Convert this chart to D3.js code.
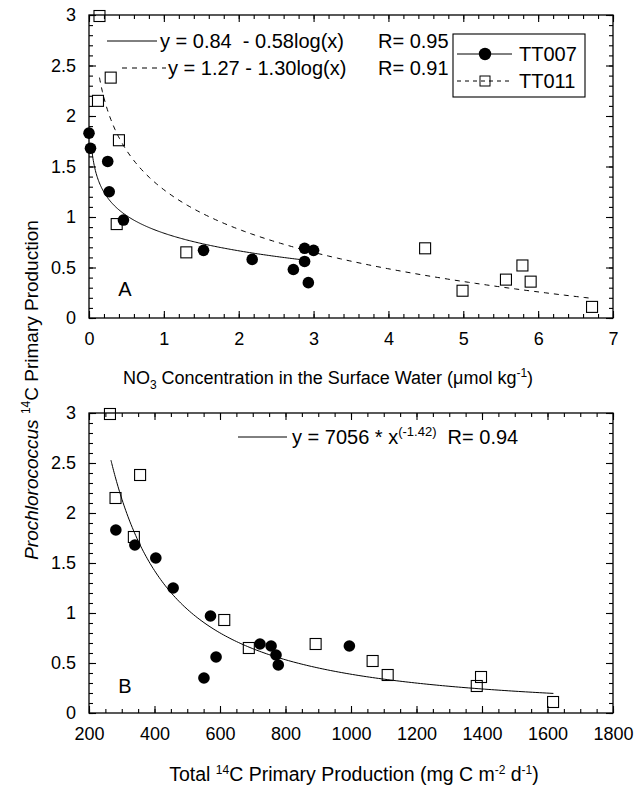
<!DOCTYPE html>
<html>
<head>
<meta charset="utf-8">
<script src="https://cdn.jsdelivr.net/npm/d3@7"></script>
<style>
  body { margin: 0; background: #fff; }
  svg { font-family: "Liberation Sans", Arial, Helvetica, sans-serif; }
  .tick text { font-size: 18px; fill: #000; }
  .domain { display: none; }
  .tick line { stroke: #000; stroke-width: 1.1; }
</style>
</head>
<body>
<svg id="chart" width="636" height="787"></svg>
<script>
// Prochlorococcus 14C primary production, shared by both panels
const prodTT007 = [1.83, 1.68, 1.55, 1.25, 0.97, 0.69, 0.67, 0.67, 0.58, 0.56, 0.48, 0.35];
const no3TT007 = [0.0, 0.02, 0.25, 0.27, 0.46, 2.88, 1.53, 3.0, 2.18, 2.88, 2.73, 2.93];
const totalTT007 = [282, 340, 404, 457, 571, 722, 756, 995, 771, 588, 778, 551];

const prodTT011 = [2.99, 2.38, 2.15, 1.76, 0.93, 0.69, 0.65, 0.52, 0.38, 0.36, 0.27, 0.11];
const no3TT011 = [0.14, 0.29, 0.12, 0.40, 0.37, 4.49, 1.30, 5.79, 5.57, 5.90, 4.99, 6.72];
const totalTT011 = [264, 356, 281, 337, 613, 892, 688, 1066, 1112, 1397, 1384, 1617];

// fit coefficients and ranges
const fitTT007 = {a: 0.84, b: -0.58, from: 0.03, to: 2.88};
const fitTT011 = {a: 1.27, b: -1.30, from: 0.14, to: 6.72};
const fitTotal = {a: 7056, b: -1.42, from: 267, to: 1618};

const yTicks = [0, 0.5, 1, 1.5, 2, 2.5, 3];
const no3Ticks = [0, 1, 2, 3, 4, 5, 6, 7];
const totalTicks = [200, 400, 600, 800, 1000, 1200, 1400, 1600, 1800];

const svg = d3.select('#chart');
const L = 89, R = 613;

const xA = d3.scaleLinear([0, 7], [L, R]);
const yA = d3.scaleLinear([0, 3], [318, 15]);
const xB = d3.scaleLinear([200, 1800], [L, R]);
const yB = d3.scaleLinear([0, 3], [713, 413]);

function fmt(d) { return d3.format('~g')(d); }

function frame(x, y, majorX, minorX) {
  const [x0, x1] = x.range();
  const [y0, y1] = y.range();
  const g = svg.append('g');
  const yMinor = d3.range(0, 3.001, 0.1);

  // bottom, labelled
  g.append('g').attr('transform', `translate(0,${y0})`)
    .call(d3.axisBottom(x).tickValues(majorX).tickSize(-7).tickPadding(14).tickFormat(fmt));
  g.append('g').attr('transform', `translate(0,${y0})`)
    .call(d3.axisBottom(x).tickValues(minorX).tickSize(-4).tickFormat(''));
  // top
  g.append('g').attr('transform', `translate(0,${y1})`)
    .call(d3.axisTop(x).tickValues(majorX).tickSize(-7).tickFormat(''));
  g.append('g').attr('transform', `translate(0,${y1})`)
    .call(d3.axisTop(x).tickValues(minorX).tickSize(-4).tickFormat(''));
  // left, labelled
  g.append('g').attr('transform', `translate(${x0},0)`)
    .call(d3.axisLeft(y).tickValues(yTicks).tickSize(-7).tickPadding(13).tickFormat(fmt));
  g.append('g').attr('transform', `translate(${x0},0)`)
    .call(d3.axisLeft(y).tickValues(yMinor).tickSize(-4).tickFormat(''));
  // right
  g.append('g').attr('transform', `translate(${x1},0)`)
    .call(d3.axisRight(y).tickValues(yTicks).tickSize(-7).tickFormat(''));
  g.append('g').attr('transform', `translate(${x1},0)`)
    .call(d3.axisRight(y).tickValues(yMinor).tickSize(-4).tickFormat(''));

  g.append('rect')
    .attr('x', x0).attr('y', y1).attr('width', x1 - x0).attr('height', y0 - y1)
    .attr('fill', 'none').attr('stroke', '#000').attr('stroke-width', 1.3);
}

frame(xA, yA, no3Ticks, d3.range(0, 7.001, 0.2));
frame(xB, yB, totalTicks, d3.range(200, 1800.1, 50));

function fitLine(x, y, fit, f, dash) {
  const xs = d3.range(0, 201).map(i => fit.from + (fit.to - fit.from) * Math.pow(i / 200, 1.6));
  svg.append('path')
    .datum(xs)
    .attr('d', d3.line().x(d => x(d)).y(d => y(f(d))))
    .attr('fill', 'none').attr('stroke', '#000').attr('stroke-width', 1)
    .attr('stroke-dasharray', dash || null);
}

const logFit = fit => v => fit.a + fit.b * Math.log10(v);
fitLine(xA, yA, fitTT007, logFit(fitTT007));
fitLine(xA, yA, fitTT011, logFit(fitTT011), '5,5');
fitLine(xB, yB, fitTotal, v => fitTotal.a * Math.pow(v, fitTotal.b));

function squares(x, y, xs, ys) {
  svg.append('g').selectAll('rect').data(xs).join('rect')
    .attr('x', d => x(d) - 5.5).attr('y', (d, i) => y(ys[i]) - 5.5)
    .attr('width', 11).attr('height', 11)
    .attr('fill', 'none').attr('stroke', '#000').attr('stroke-width', 1.1);
}
function circles(x, y, xs, ys) {
  svg.append('g').selectAll('circle').data(xs).join('circle')
    .attr('cx', d => x(d)).attr('cy', (d, i) => y(ys[i])).attr('r', 5.8)
    .attr('fill', '#000');
}

squares(xA, yA, no3TT011, prodTT011);
circles(xA, yA, no3TT007, prodTT007);
squares(xB, yB, totalTT011, prodTT011);
circles(xB, yB, totalTT007, prodTT007);

// equation annotations
function eqLine(x1, x2, y, dash) {
  svg.append('line').attr('x1', x1).attr('x2', x2).attr('y1', y).attr('y2', y)
    .attr('stroke', '#000').attr('stroke-width', 1).attr('stroke-dasharray', dash || null);
}
function txt(x, y, s, size, anchor) {
  return svg.append('text').attr('x', x).attr('y', y)
    .attr('font-size', size || 18).attr('text-anchor', anchor || 'start').text(s);
}

eqLine(107, 157, 41);
txt(160, 48, 'y = 0.84  - 0.58log(x)', 20).attr('xml:space', 'preserve');
txt(378, 48, 'R= 0.95', 20);
eqLine(122, 166, 68, '5,5');
txt(168, 75, 'y = 1.27 - 1.30log(x)', 20);
txt(378, 75, 'R= 0.91', 20);

eqLine(238, 287, 437);
const eqB = txt(292, 444, 'y = 7056 * x', 20);
eqB.append('tspan').attr('font-size', 13).attr('dy', -8).text('(-1.42)');
eqB.append('tspan').attr('dy', 8).text('  R= 0.94').attr('xml:space', 'preserve');

// legend
svg.append('rect').attr('x', 453).attr('y', 34).attr('width', 132).attr('height', 63)
  .attr('fill', '#fff').attr('stroke', '#000').attr('stroke-width', 1.1);
eqLine(457, 512, 54);
svg.append('circle').attr('cx', 485).attr('cy', 54).attr('r', 6.2).attr('fill', '#000');
txt(519, 61, 'TT007', 20);
eqLine(457, 512, 81, '4,4');
svg.append('rect').attr('x', 480).attr('y', 76).attr('width', 10).attr('height', 10)
  .attr('fill', 'none').attr('stroke', '#000').attr('stroke-width', 1);
txt(519, 88, 'TT011', 20);

// panel letters
txt(125, 296, 'A', 20, 'middle');
txt(125, 693, 'B', 20, 'middle');

// axis titles
const tA = txt(328, 384, 'NO', 18, 'middle');
tA.append('tspan').attr('font-size', 12).attr('dy', 5).text('3');
tA.append('tspan').attr('dy', -5).text(' Concentration in the Surface Water (\u03bcmol kg');
tA.append('tspan').attr('font-size', 12).attr('dy', -7).text('-1');
tA.append('tspan').attr('dy', 7).text(')');

const tB = txt(354, 781, 'Total ', 19.5, 'middle');
tB.append('tspan').attr('font-size', 12).attr('dy', -7).text('14');
tB.append('tspan').attr('dy', 7).text('C Primary Production (mg C m');
tB.append('tspan').attr('font-size', 12).attr('dy', -7).text('-2');
tB.append('tspan').attr('dy', 7).text(' d');
tB.append('tspan').attr('font-size', 12).attr('dy', -7).text('-1');
tB.append('tspan').attr('dy', 7).text(')');

const tY = svg.append('text')
  .attr('transform', 'translate(38,390) rotate(-90)')
  .attr('text-anchor', 'middle').attr('font-size', 19);
tY.append('tspan').attr('font-style', 'italic').text('Prochlorococcus');
tY.append('tspan').text(' ');
tY.append('tspan').attr('font-size', 12).attr('dy', -8).text('14');
tY.append('tspan').attr('dy', 8).text('C Primary Production');
</script>
</body>
</html>
